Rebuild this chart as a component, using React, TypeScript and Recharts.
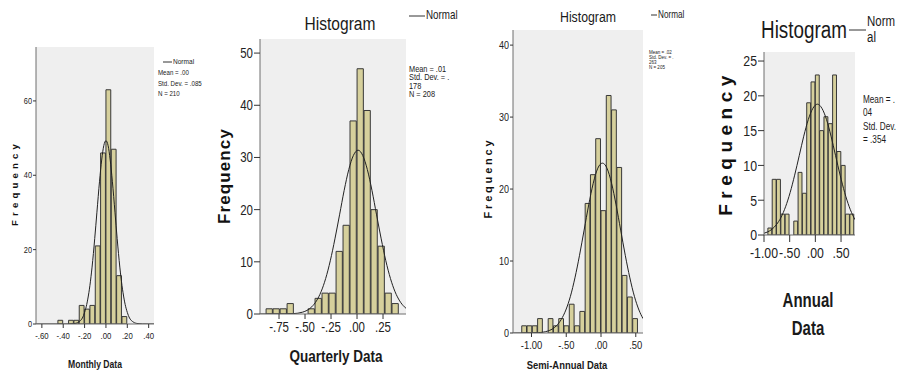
import React from 'react';
import { ComposedChart, Bar, Line, XAxis, YAxis, CartesianGrid } from 'recharts';

const W = 898;
const H = 376;
const SANS = "'Liberation Sans', Arial, sans-serif";
const SX = 0.82;
const BAR_FILL = '#d6d09c';
const BAR_STROKE = '#383838';
const BG = '#efefef';
const BORDER = '#6f6f6f';

// ---------- Monthly ----------
const monthlyBins = [-0.425, -0.375, -0.325, -0.275, -0.225, -0.175, -0.125, -0.075, -0.025, 0.025, 0.075, 0.125, 0.175];
const monthlyCounts = [1, 0, 1, 1, 5, 4, 5, 21, 46, 63, 47, 13, 2];
const monthlyCurveX = [-0.655, -0.4, -0.34, -0.3, -0.255, -0.21, -0.17, -0.15, -0.13, -0.105, -0.085, -0.06, -0.04, -0.02, 0, 0.02, 0.04, 0.06, 0.085, 0.105, 0.13, 0.15, 0.17, 0.21, 0.255, 0.3, 0.34, 0.45];
const monthlyCurveY = [0, 0, 0.02, 0.1, 0.55, 2.3, 6.7, 10.4, 15.3, 23.0, 29.9, 38.4, 44.1, 48.0, 49.3, 48.0, 44.1, 38.4, 29.9, 23.0, 15.3, 10.4, 6.7, 2.3, 0.55, 0.1, 0.02, 0];
const monthlyXTicks = [-0.6, -0.4, -0.2, 0, 0.2, 0.4];
const monthlyXLabels = ['-.60', '-.40', '-.20', '.00', '.20', '.40'];
const monthlyYTicks = [0, 20, 40, 60];

// ---------- Quarterly ----------
const quarterlyBins = [-0.841, -0.774, -0.706, -0.639, -0.572, -0.505, -0.437, -0.37, -0.303, -0.236, -0.168, -0.101, -0.034, 0.034, 0.101, 0.168, 0.236, 0.303, 0.37];
const quarterlyCounts = [1, 1, 1, 2, 0, 0, 1, 3, 4, 4, 12, 17, 37, 47, 39, 20, 13, 4, 2];
const quarterlyCurveX = [-0.933, -0.7, -0.613, -0.524, -0.435, -0.3905, -0.346, -0.3015, -0.257, -0.2125, -0.168, -0.1235, -0.079, -0.0345, 0.01, 0.0545, 0.099, 0.1435, 0.188, 0.2325, 0.277, 0.3215, 0.366, 0.4105, 0.455, 0.471];
const quarterlyCurveY = [0, 0.01, 0.07, 0.35, 1.38, 2.5, 4.25, 6.8, 10.2, 14.4, 19.0, 23.7, 27.7, 30.4, 31.4, 30.4, 27.7, 23.7, 19.0, 14.4, 10.2, 6.8, 4.25, 2.5, 1.38, 1.1];
const quarterlyXTicks = [-0.75, -0.5, -0.25, 0, 0.25];
const quarterlyXLabels = ['-.75', '-.50', '-.25', '.00', '.25'];
const quarterlyYTicks = [0, 10, 20, 30, 40, 50];

// ---------- Semi-Annual ----------
const semiBins = [-1.102, -1.026, -0.95, -0.874, -0.798, -0.722, -0.646, -0.57, -0.494, -0.418, -0.342, -0.266, -0.19, -0.114, -0.038, 0.038, 0.114, 0.19, 0.266, 0.342, 0.418, 0.494];
const semiCounts = [1, 1, 1, 2, 0, 2, 1, 2, 1, 4, 1, 3, 18, 22, 27, 17, 33, 31, 23, 8, 5, 2];
const semiCurveX = [-1.266, -1.032, -0.9, -0.769, -0.638, -0.572, -0.506, -0.44, -0.375, -0.309, -0.243, -0.177, -0.112, -0.046, 0.02, 0.086, 0.152, 0.217, 0.283, 0.349, 0.415, 0.48, 0.546, 0.604];
const semiCurveY = [0, 0.01, 0.05, 0.26, 1.04, 1.88, 3.19, 5.1, 7.66, 10.8, 14.3, 17.8, 20.8, 22.9, 23.6, 22.9, 20.8, 17.8, 14.3, 10.8, 7.66, 5.1, 3.19, 2.0];
const semiXTicks = [-1, -0.5, 0, 0.5];
const semiXLabels = ['-1.00', '-.50', '.00', '.50'];
const semiYTicks = [0, 10, 20, 30, 40];

// ---------- Annual ----------
const annualBins = [-0.882, -0.798, -0.714, -0.63, -0.546, -0.462, -0.378, -0.294, -0.21, -0.126, -0.042, 0.042, 0.126, 0.21, 0.294, 0.378, 0.462, 0.546, 0.63, 0.714];
const annualCounts = [1, 8, 8, 3, 3, 0, 2, 9, 6, 19, 22, 23, 15, 17, 16, 23, 12, 10, 3, 3];
const annualCurveX = [-1.0, -0.934, -0.845, -0.757, -0.668, -0.58, -0.491, -0.403, -0.314, -0.226, -0.137, -0.0485, 0.04, 0.1285, 0.217, 0.3055, 0.394, 0.4825, 0.571, 0.6595, 0.748, 0.772];
const annualCurveY = [0.25, 0.43, 0.83, 1.5, 2.54, 4.06, 6.1, 8.6, 11.4, 14.2, 16.6, 18.2, 18.8, 18.2, 16.6, 14.2, 11.4, 8.6, 6.1, 4.06, 2.54, 2.2];
const annualXTicks = [-1, -0.5, 0, 0.5];
const annualXLabels = ['-1.00', '-.50', '.00', '.50'];
const annualYTicks = [0, 5, 10, 15, 20, 25];

type Box = { left: number; right: number; top: number; bottom: number };

type PanelProps = {
  bins: number[];
  counts: number[];
  curveX: number[];
  curveY: number[];
  xTicks: number[];
  xLabels: string[];
  yTicks: number[];
  xDomain: [number, number];
  yDomain: [number, number];
  box: Box;
  yTickSize: number;
  yTickMargin: number;
  xTickSize: number;
  xTickMargin: number;
  yFont: number;
  xFont: number;
};

function Panel(p: PanelProps) {
  const barData = p.bins.map((x, i) => ({ x, n: p.counts[i] }));
  const curveData = p.curveX.map((cx, i) => ({ cx, cy: p.curveY[i] }));
  const yW = 40;
  const xH = 40;
  const margin = {
    top: p.box.top,
    left: p.box.left - yW,
    right: W - p.box.right,
    bottom: H - p.box.bottom - xH,
  };
  // bar width follows the bin spacing through the axis scale
  const binStep = p.bins[1] - p.bins[0];
  const pxPerUnit = (p.box.right - p.box.left) / (p.xDomain[1] - p.xDomain[0]);
  const barSize = binStep * pxPerUnit;

  const XTick = (props: any) => {
    const { x, y, index } = props;
    return (
      <text
        transform={`translate(${x},${y}) scale(${SX},1)`}
        textAnchor="middle"
        dy="0.71em"
        fontSize={p.xFont}
        fontFamily={SANS}
        fill="#222"
      >
        {p.xLabels[index]}
      </text>
    );
  };
  const YTick = (props: any) => {
    const { x, y, payload } = props;
    return (
      <text
        transform={`translate(${x},${y}) scale(${SX},1)`}
        textAnchor="end"
        dy="0.355em"
        fontSize={p.yFont}
        fontFamily={SANS}
        fill="#222"
      >
        {String(payload.value)}
      </text>
    );
  };

  return (
    <div style={{ position: 'absolute', left: 0, top: 0, width: W, height: H }}>
      <ComposedChart width={W} height={H} data={barData} margin={margin} barCategoryGap={0} barGap={0}>
        <CartesianGrid xAxisId="b" yAxisId="l" fill={BG} horizontal={false} vertical={false} />
        <XAxis
          xAxisId="b"
          dataKey="x"
          type="number"
          domain={p.xDomain}
          allowDataOverflow
          ticks={p.xTicks}
          height={xH}
          interval={0}
          axisLine={{ stroke: BORDER }}
          tickLine={{ stroke: '#333' }}
          tickSize={p.xTickSize}
          tickMargin={p.xTickMargin}
          tick={<XTick />}
        />
        <XAxis xAxisId="c" dataKey="cx" type="number" domain={p.xDomain} allowDataOverflow hide />
        <XAxis
          xAxisId="top"
          orientation="top"
          type="number"
          domain={[0, 1]}
          height={0}
          tick={false}
          tickLine={false}
          axisLine={{ stroke: BORDER }}
        />
        <YAxis
          yAxisId="l"
          type="number"
          domain={p.yDomain}
          allowDataOverflow
          ticks={p.yTicks}
          width={yW}
          interval={0}
          axisLine={{ stroke: BORDER }}
          tickLine={{ stroke: '#333' }}
          tickSize={p.yTickSize}
          tickMargin={p.yTickMargin}
          tick={<YTick />}
        />
        <YAxis
          yAxisId="r"
          orientation="right"
          type="number"
          domain={[0, 1]}
          width={0}
          tick={false}
          tickLine={false}
          axisLine={{ stroke: BORDER }}
        />
        <Bar
          xAxisId="b"
          yAxisId="l"
          dataKey="n"
          barSize={barSize}
          fill={BAR_FILL}
          stroke={BAR_STROKE}
          strokeWidth={1}
          isAnimationActive={false}
        />
        <Line
          data={curveData}
          xAxisId="c"
          yAxisId="l"
          dataKey="cy"
          type="monotone"
          stroke="#222"
          strokeWidth={1}
          dot={false}
          activeDot={false}
          isAnimationActive={false}
        />
      </ComposedChart>
    </div>
  );
}

function Overlay() {
  const t = (x: number, y: number, s: string, size: number, opts: { anchor?: string; bold?: boolean; sx?: number } = {}) => (
    <text
      transform={`translate(${x},${y}) scale(${opts.sx ?? SX},1)`}
      fontSize={size}
      fontFamily={SANS}
      fontWeight={opts.bold ? 'bold' : 'normal'}
      fill="#1a1a1a"
      dominantBaseline="middle"
      textAnchor={opts.anchor ?? 'start'}
    >
      {s}
    </text>
  );
  const freq = (x: number, y: number, size: number, ls: number) => (
    <text
      x={0}
      y={0}
      transform={`translate(${x},${y}) rotate(-90)`}
      textAnchor="middle"
      dominantBaseline="middle"
      fontSize={size}
      fontWeight="bold"
      fontFamily={SANS}
      letterSpacing={ls}
      fill="#111"
    >
      Frequency
    </text>
  );
  return (
    <svg width={W} height={H} style={{ position: 'absolute', left: 0, top: 0, pointerEvents: 'none' }}>
      {/* Panel 1 */}
      {freq(15, 183, 9.5, 4.2)}
      {t(95, 365, 'Monthly Data', 10.5, { anchor: 'middle', bold: true })}
      <line x1={163} y1={62} x2={172} y2={62} stroke="#333" strokeWidth={1} />
      {t(173, 62, 'Normal', 8)}
      {t(158, 73, 'Mean = .00', 7.5)}
      {t(158, 84, 'Std. Dev. = .085', 7.5)}
      {t(158, 94, 'N = 210', 7.5)}

      {/* Panel 2 */}
      {t(340, 25, 'Histogram', 19, { anchor: 'middle' })}
      <line x1={409} y1={16} x2={425} y2={16} stroke="#333" strokeWidth={1} />
      {t(426, 16, 'Normal', 12)}
      {t(409, 69.5, 'Mean = .01', 9)}
      {t(409, 78, 'Std. Dev. = .', 9)}
      {t(409, 86.5, '178', 9)}
      {t(409, 95, 'N = 208', 9)}
      {freq(226, 176, 17, 1.1)}
      {t(336, 358, 'Quarterly Data', 16.5, { anchor: 'middle', bold: true })}

      {/* Panel 3 */}
      {t(588, 18, 'Histogram', 15, { anchor: 'middle' })}
      <line x1={651} y1={15} x2={657} y2={15} stroke="#333" strokeWidth={1} />
      {t(658, 15, 'Normal', 10)}
      {t(649, 52.5, 'Mean = .02', 5.5)}
      {t(649, 57.5, 'Std. Dev. = .', 5.5)}
      {t(649, 62.5, '263', 5.5)}
      {t(649, 67.5, 'N = 205', 5.5)}
      {freq(489, 178, 11, 2.8)}
      {t(567, 366, 'Semi-Annual Data', 11.5, { anchor: 'middle', bold: true })}

      {/* Panel 4 */}
      {t(804, 32, 'Histogram', 23, { anchor: 'middle' })}
      <line x1={849} y1={30} x2={866} y2={30} stroke="#333" strokeWidth={1} />
      {t(867, 22, 'Norm', 14)}
      {t(867, 38, 'al', 14)}
      {t(863, 100, 'Mean = .', 10)}
      {t(863, 113, '04', 10)}
      {t(863, 127, 'Std. Dev.', 10)}
      {t(863, 140, '= .354', 10)}
      {freq(727, 143, 19, 5.5)}
      {t(808, 302, 'Annual', 20, { anchor: 'middle', bold: true, sx: 0.75 })}
      {t(808, 330, 'Data', 20, { anchor: 'middle', bold: true, sx: 0.75 })}
    </svg>
  );
}

export default function App() {
  return (
    <div style={{ position: 'absolute', left: 0, top: 0, width: W, height: H, background: '#fff', overflow: 'hidden' }}>
      <Panel
        bins={monthlyBins}
        counts={monthlyCounts}
        curveX={monthlyCurveX}
        curveY={monthlyCurveY}
        xTicks={monthlyXTicks}
        xLabels={monthlyXLabels}
        yTicks={monthlyYTicks}
        xDomain={[-0.655, 0.45]}
        yDomain={[0, 74.5]}
        box={{ left: 36, right: 154, top: 47, bottom: 324 }}
        yTickSize={3}
        yTickMargin={1}
        xTickSize={4}
        xTickMargin={4}
        yFont={9}
        xFont={9.5}
      />
      <Panel
        bins={quarterlyBins}
        counts={quarterlyCounts}
        curveX={quarterlyCurveX}
        curveY={quarterlyCurveY}
        xTicks={quarterlyXTicks}
        xLabels={quarterlyXLabels}
        yTicks={quarterlyYTicks}
        xDomain={[-0.933, 0.471]}
        yDomain={[0, 52.7]}
        box={{ left: 260, right: 406, top: 39, bottom: 314 }}
        yTickSize={6}
        yTickMargin={1}
        xTickSize={5}
        xTickMargin={3}
        yFont={14}
        xFont={14}
      />
      <Panel
        bins={semiBins}
        counts={semiCounts}
        curveX={semiCurveX}
        curveY={semiCurveY}
        xTicks={semiXTicks}
        xLabels={semiXLabels}
        yTicks={semiYTicks}
        xDomain={[-1.266, 0.604]}
        yDomain={[0, 42.1]}
        box={{ left: 513, right: 643, top: 30, bottom: 333 }}
        yTickSize={3}
        yTickMargin={1}
        xTickSize={4}
        xTickMargin={4}
        yFont={11}
        xFont={11.5}
      />
      <Panel
        bins={annualBins}
        counts={annualCounts}
        curveX={annualCurveX}
        curveY={annualCurveY}
        xTicks={annualXTicks}
        xLabels={annualXLabels}
        yTicks={annualYTicks}
        xDomain={[-1.0, 0.772]}
        yDomain={[0, 26.3]}
        box={{ left: 764, right: 855, top: 52, bottom: 235 }}
        yTickSize={6}
        yTickMargin={1}
        xTickSize={7}
        xTickMargin={5}
        yFont={15}
        xFont={15}
      />
      <Overlay />
    </div>
  );
}
